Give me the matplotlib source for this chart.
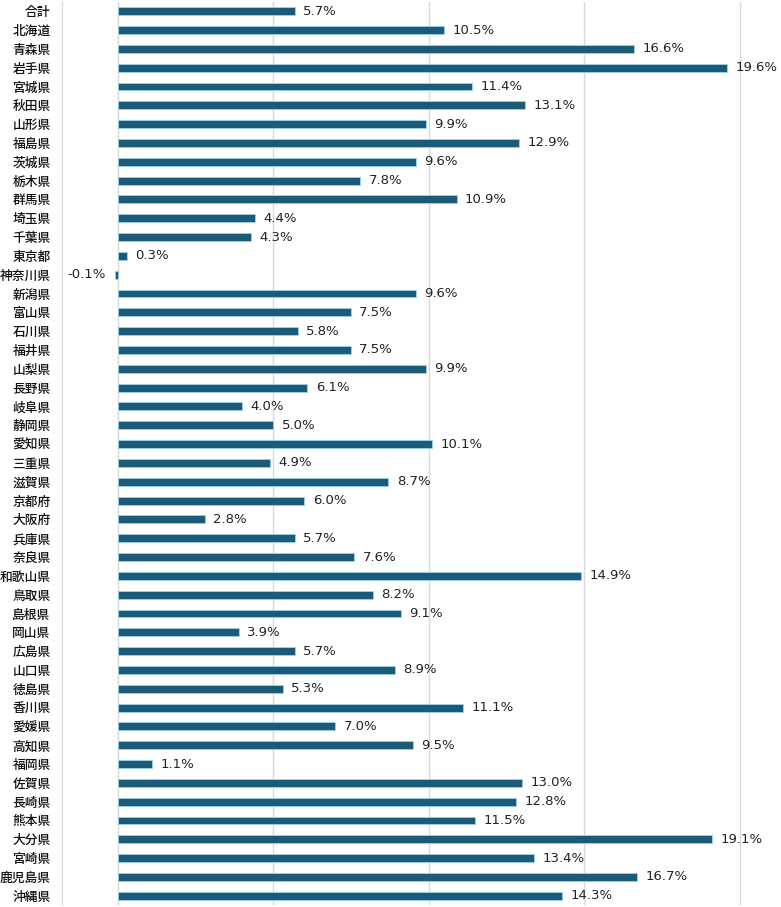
import matplotlib
matplotlib.use('Agg')
import matplotlib.pyplot as plt

plt.rcParams['font.family'] = ['Noto Sans CJK JP', 'DejaVu Sans']

# 都道府県と値（%）
prefectures = ['合計', '北海道', '青森県', '岩手県', '宮城県', '秋田県', '山形県', '福島県',
               '茨城県', '栃木県', '群馬県', '埼玉県', '千葉県', '東京都', '神奈川県', '新潟県',
               '富山県', '石川県', '福井県', '山梨県', '長野県', '岐阜県', '静岡県', '愛知県',
               '三重県', '滋賀県', '京都府', '大阪府', '兵庫県', '奈良県', '和歌山県', '鳥取県',
               '島根県', '岡山県', '広島県', '山口県', '徳島県', '香川県', '愛媛県', '高知県',
               '福岡県', '佐賀県', '長崎県', '熊本県', '大分県', '宮崎県', '鹿児島県', '沖縄県']
values = [5.7, 10.5, 16.6, 19.6, 11.4, 13.1, 9.9, 12.9,
          9.6, 7.8, 10.9, 4.4, 4.3, 0.3, -0.1, 9.6,
          7.5, 5.8, 7.5, 9.9, 6.1, 4.0, 5.0, 10.1,
          4.9, 8.7, 6.0, 2.8, 5.7, 7.6, 14.9, 8.2,
          9.1, 3.9, 5.7, 8.9, 5.3, 11.1, 7.0, 9.5,
          1.1, 13.0, 12.8, 11.5, 19.1, 13.4, 16.7, 14.3]
grid_ticks = [0, 5, 10, 15, 20]

fig = plt.figure(figsize=(7.81, 9.07), dpi=100)
ax = fig.add_axes([0.079, 0.002, 0.916, 0.996])

ypos = list(range(len(prefectures)))
ax.barh(ypos, values, height=0.42, color='#1b5a78', edgecolor='#9fd3ea', linewidth=0.6, zorder=3)

for y, v in zip(ypos, values):
    if v >= 0:
        ax.annotate(f'{v:.1f}%', (v, y), xytext=(6, 0), textcoords='offset points',
                    ha='left', va='center', fontsize=9.5, family=['DejaVu Sans'], color='#222222')
    else:
        ax.annotate(f'{v:.1f}%', (v, y), xytext=(-6, 0), textcoords='offset points',
                    ha='right', va='center', fontsize=9.5, family=['DejaVu Sans'], color='#222222')

ax.set_ylim(len(prefectures) - 0.5, -0.5)
ax.set_xlim(-1.8, 21.2)
ax.set_yticks(ypos)
ax.set_yticklabels(prefectures, fontsize=9.2, color='#111111', fontweight='medium')
ax.set_xticks(grid_ticks)
ax.tick_params(axis='x', bottom=False, labelbottom=False)
ax.tick_params(axis='y', left=False, pad=4.5)
ax.grid(axis='x', color='#d9d9d9', linewidth=1, zorder=0)

for s in ['top', 'right', 'bottom']:
    ax.spines[s].set_visible(False)
ax.spines['left'].set_color('#d9d9d9')

fig.savefig('out.png', dpi=100)
